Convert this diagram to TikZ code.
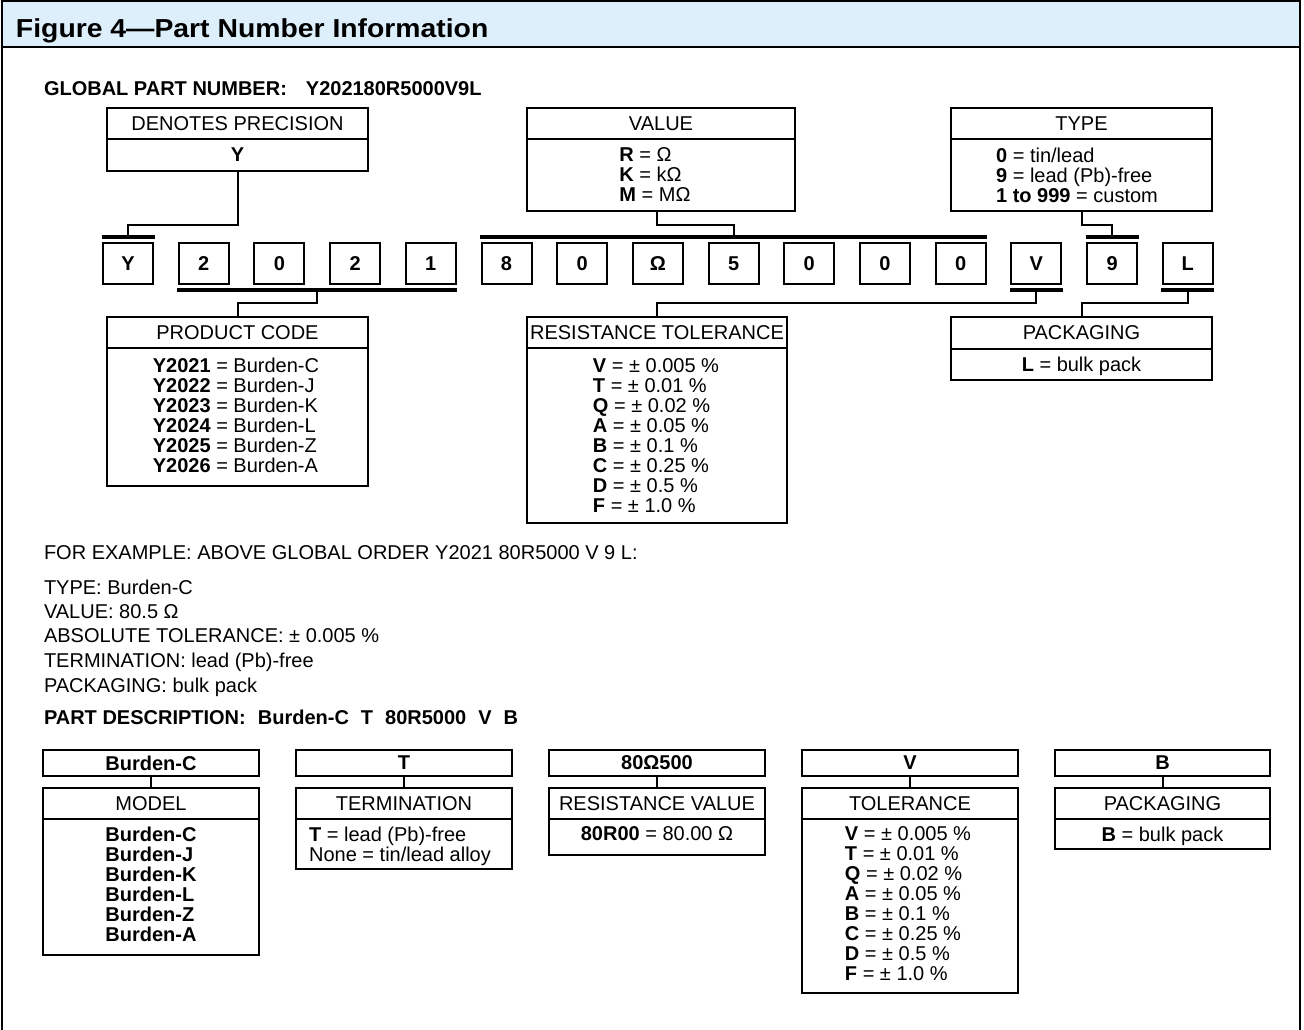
\documentclass[tikz,border=0pt]{standalone}
\usepackage{fontspec}
\usepackage{graphicx}
\setmainfont{Liberation Sans}
\usetikzlibrary{calc}
\definecolor{headblue}{RGB}{221,239,250}
\begin{document}
\begin{tikzpicture}[x=1pt,y=-1pt,
  every node/.style={inner sep=0pt, outer sep=0pt, font=\fontsize{20}{20}\selectfont},
  box/.style={draw, line width=2pt, anchor=north west},
  blk/.style={align=left, anchor=north},
  bar/.style={line width=3.5pt},
  con/.style={line width=2pt},
  frame/.style={line width=2pt}]
\useasboundingbox (0,0) rectangle (1304,1030);
% header and frame
\fill[headblue] (2,1.5) rectangle (1300,47);
\draw[frame] (2,1030) -- (2,1.5) -- (1300,1.5) -- (1300,1030);
\draw[frame] (2,47) -- (1300,47);
\node[anchor=base west, font=\fontsize{26}{26}\selectfont\bfseries] (title) at (16,38) {\scalebox{1.09}[1]{Figure 4—Part Number Information}};

\node[anchor=base west, font=\fontsize{20}{20}\selectfont\bfseries] (gpn) at (44,96) {GLOBAL PART NUMBER:\hspace{19pt}Y202180R5000V9L};

% top boxes
\node[box, minimum width=261pt, minimum height=31pt] (precT) at (107,108) {DENOTES PRECISION};
\node[box, minimum width=261pt, minimum height=32pt] (precB) at (107,139) {};
\node[blk] (precX) at (237.5,148) {\textbf{Y}};

\node[box, minimum width=268pt, minimum height=31pt] (valT) at (527,108) {VALUE};
\node[box, minimum width=268pt, minimum height=72pt] (valB) at (527,139) {};
\node[blk] (valX) at (655,148) {\textbf{R} = Ω\\ \textbf{K} = kΩ\\ \textbf{M} = MΩ};

\node[box, minimum width=261pt, minimum height=31pt] (typeT) at (951,108) {TYPE};
\node[box, minimum width=261pt, minimum height=72pt] (typeB) at (951,139) {};
\node[blk] (typeX) at (1077,148) {\textbf{0} = tin/lead\\ \textbf{9} = lead (Pb)-free\\ \textbf{1 to 999} = custom};

% digit boxes
\foreach \ch [count=\i from 0] in {Y,2,0,2,1,8,0,Ω,5,0,0,0,V,9,L}
  \node[box, minimum width=50pt, minimum height=41pt] (d\i) at ({103+\i*75.7},243) {\textbf{\ch}};

% bars
\draw[bar] ($(d0.north west)+(-1.5,-6)$) -- ($(d0.north east)+(1.5,-6)$);
\draw[bar] ($(d5.north west)+(-1.5,-6)$) -- ($(d11.north east)+(1.5,-6)$);
\draw[bar] ($(d13.north west)+(-1.5,-6)$) -- ($(d13.north east)+(1.5,-6)$);
\draw[bar] ($(d1.south west)+(-1.5,6)$) -- ($(d4.south east)+(1.5,6)$);
\draw[bar] ($(d12.south west)+(-1.5,6)$) -- ($(d12.south east)+(1.5,6)$);
\draw[bar] ($(d14.south west)+(-1.5,6)$) -- ($(d14.south east)+(1.5,6)$);

\coordinate (tY) at ($(d0.north)+(0,-6)$);
\coordinate (tV) at ($(d8.north)+(0,-6)$);
\coordinate (t9) at ($(d13.north)+(0,-6)$);
\coordinate (bP) at ($(d1.south)!0.5!(d4.south)+(0,6)$);
\coordinate (bV) at ($(d12.south)+(0,6)$);
\coordinate (bL) at ($(d14.south)+(0,6)$);

% connectors above
\draw[con] (precB.south) |- ($(tY)+(0,-12)$) -- (tY);
\draw[con] ($(valB.south)+(-4,0)$) |- ($(tV)+(0,-12)$) -- (tV);
\draw[con] (typeB.south) |- ($(t9)+(0,-12)$) -- (t9);

% middle boxes
\node[box, minimum width=261pt, minimum height=31pt] (pcT) at (107,317) {PRODUCT CODE};
\node[box, minimum width=261pt, minimum height=138pt] (pcB) at (107,348) {};
\node[blk] (pcX) at (236,358) {\textbf{Y2021} = Burden-C\\ \textbf{Y2022} = Burden-J\\ \textbf{Y2023} = Burden-K\\ \textbf{Y2024} = Burden-L\\ \textbf{Y2025} = Burden-Z\\ \textbf{Y2026} = Burden-A};

\node[box, minimum width=260pt, minimum height=31pt] (rtT) at (527,317) {RESISTANCE TOLERANCE};
\node[box, minimum width=260pt, minimum height=175pt] (rtB) at (527,348) {};
\node[blk] (rtX) at (656,359) {\textbf{V} = ± 0.005 \%\\ \textbf{T} = ± 0.01 \%\\ \textbf{Q} = ± 0.02 \%\\ \textbf{A} = ± 0.05 \%\\ \textbf{B} = ± 0.1 \%\\ \textbf{C} = ± 0.25 \%\\ \textbf{D} = ± 0.5 \%\\ \textbf{F} = ± 1.0 \%};

\node[box, minimum width=261pt, minimum height=32pt] (pkT) at (951,317) {PACKAGING};
\node[box, minimum width=261pt, minimum height=31pt] (pkB) at (951,349) {};
\node[blk] (pkX) at (1081.5,357) {\textbf{L} = bulk pack};

% connectors below
\draw[con] (bP) -- ++(0,13) -| (pcT.north);
\draw[con] (bV) -- ++(0,13) -| (rtT.north);
\draw[con] (bL) -- ++(0,13) -| (pkT.north);

% example text
\node[anchor=base west] (ex0) at (44,559) {FOR EXAMPLE: ABOVE GLOBAL ORDER Y2021 80R5000 V 9 L:};
\node[anchor=base west] (ex1) at (44,594) {TYPE: Burden-C};
\node[anchor=base west] (ex2) at (44,618) {VALUE: 80.5 Ω};
\node[anchor=base west] (ex3) at (44,642) {ABSOLUTE TOLERANCE: ± 0.005 \%};
\node[anchor=base west] (ex4) at (44,667) {TERMINATION: lead (Pb)-free};
\node[anchor=base west] (ex5) at (44,692) {PACKAGING: bulk pack};
\node[anchor=base west, font=\fontsize{20}{20}\selectfont\bfseries] (pd) at (44,724) {PART DESCRIPTION:\hspace{12pt}Burden-C\hspace{12pt}T\hspace{12pt}80R5000\hspace{12pt}V\hspace{12pt}B};

% bottom columns
\node[box, minimum width=216pt, minimum height=26pt] (c1a) at (43,750) {\textbf{Burden-C}};
\node[box, minimum width=216pt, minimum height=31pt] (c1T) at (43,788) {MODEL};
\node[box, minimum width=216pt, minimum height=136pt] (c1B) at (43,819) {};
\node[blk] (c1X) at (151,827) {\textbf{Burden-C}\\ \textbf{Burden-J}\\ \textbf{Burden-K}\\ \textbf{Burden-L}\\ \textbf{Burden-Z}\\ \textbf{Burden-A}};
\draw[con] (c1a.south) -- (c1T.north);

\node[box, minimum width=216pt, minimum height=26pt] (c2a) at (296,750) {\textbf{T}};
\node[box, minimum width=216pt, minimum height=31pt] (c2T) at (296,788) {TERMINATION};
\node[box, minimum width=216pt, minimum height=50pt] (c2B) at (296,819) {};
\node[blk] (c2X) at (400,827) {\textbf{T} = lead (Pb)-free\\ None = tin/lead alloy};
\draw[con] (c2a.south) -- (c2T.north);

\node[box, minimum width=216pt, minimum height=26pt] (c3a) at (549,750) {\textbf{80Ω500}};
\node[box, minimum width=216pt, minimum height=31pt] (c3T) at (549,788) {RESISTANCE VALUE};
\node[box, minimum width=216pt, minimum height=36pt] (c3B) at (549,819) {};
\node[blk] (c3X) at (657,827) {\textbf{80R00} = 80.00 Ω};
\draw[con] (c3a.south) -- (c3T.north);

\node[box, minimum width=216pt, minimum height=26pt] (c4a) at (802,750) {\textbf{V}};
\node[box, minimum width=216pt, minimum height=31pt] (c4T) at (802,788) {TOLERANCE};
\node[box, minimum width=216pt, minimum height=174pt] (c4B) at (802,819) {};
\node[blk] (c4X) at (908,827) {\textbf{V} = ± 0.005 \%\\ \textbf{T} = ± 0.01 \%\\ \textbf{Q} = ± 0.02 \%\\ \textbf{A} = ± 0.05 \%\\ \textbf{B} = ± 0.1 \%\\ \textbf{C} = ± 0.25 \%\\ \textbf{D} = ± 0.5 \%\\ \textbf{F} = ± 1.0 \%};
\draw[con] (c4a.south) -- (c4T.north);

\node[box, minimum width=215pt, minimum height=26pt] (c5a) at (1055,750) {\textbf{B}};
\node[box, minimum width=215pt, minimum height=31pt] (c5T) at (1055,788) {PACKAGING};
\node[box, minimum width=215pt, minimum height=30pt] (c5B) at (1055,819) {};
\node[blk] (c5X) at (1162.5,827) {\textbf{B} = bulk pack};
\draw[con] (c5a.south) -- (c5T.north);
\end{tikzpicture}
\end{document}
